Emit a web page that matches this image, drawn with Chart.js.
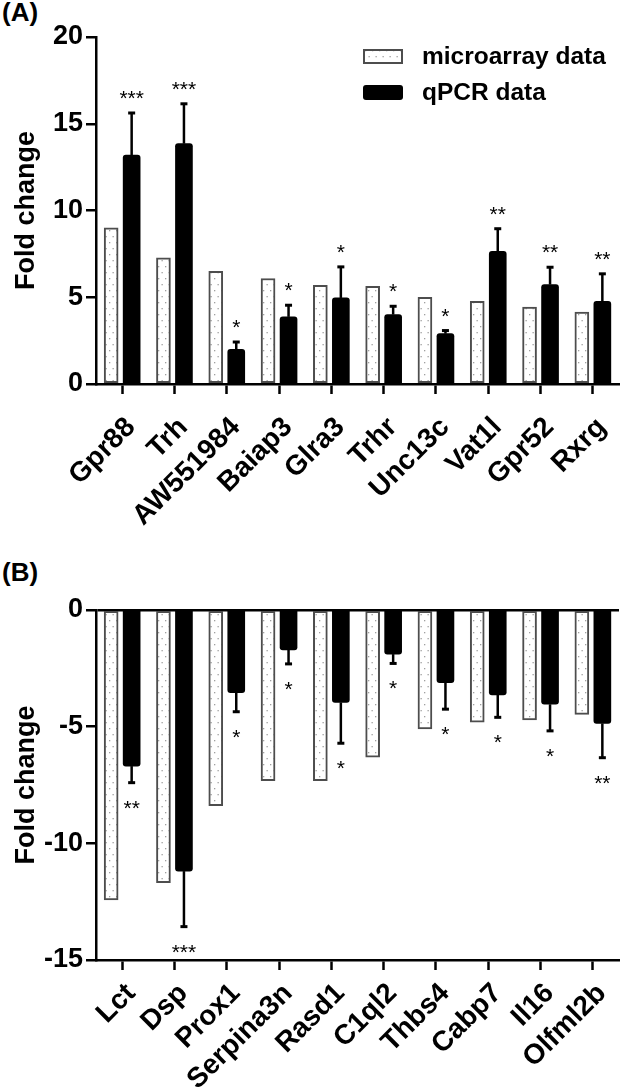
<!DOCTYPE html>
<html>
<head>
<meta charset="utf-8">
<script src="https://cdn.jsdelivr.net/npm/chart.js@4.4.1/dist/chart.umd.min.js"></script>
<style>
  html, body { margin: 0; padding: 0; background: #fff; }
  body { width: 624px; height: 1092px; position: relative; overflow: hidden; }
  .panel { position: absolute; left: 0; width: 624px; height: 546px; }
  .tag { position: absolute; left: 2px; font: bold 26px "Liberation Sans", Arial, sans-serif; line-height: 26px; color: #000; }
</style>
</head>
<body>
<div class="tag" style="top:-1px">(A)</div>
<div class="tag" style="top:559px">(B)</div>
<div class="panel" style="top:0"><canvas id="upChart" width="624" height="546"></canvas></div>
<div class="panel" style="top:546px"><canvas id="downChart" width="624" height="546"></canvas></div>
<script>
// upregulated genes (A)
const upGenes = ['Gpr88', 'Trh', 'AW551984', 'Baiap3', 'Glra3', 'Trhr', 'Unc13c', 'Vat1l', 'Gpr52', 'Rxrg'];
const upArray = [9.0, 7.27, 6.5, 6.08, 5.69, 5.63, 5.0, 4.77, 4.44, 4.15];
const upQpcr = [13.2, 13.85, 2.0, 3.87, 4.96, 4.0, 2.9, 7.65, 5.73, 4.77];
const upErr = [2.42, 2.3, 0.42, 0.67, 1.79, 0.48, 0.18, 1.3, 1.0, 1.58];
const upStars = ['***', '***', '*', '*', '*', '*', '*', '**', '**', '**'];
const upTicks = [0, 5, 10, 15, 20];

// downregulated genes (B)
const downGenes = ['Lct', 'Dsp', 'Prox1', 'Serpina3n', 'Rasd1', 'C1ql2', 'Thbs4', 'Cabp7', 'Il16', 'Olfml2b'];
const downArray = [-12.43, -11.69, -8.39, -7.31, -7.31, -6.31, -5.1, -4.81, -4.71, -4.47];
const downQpcr = [-6.69, -11.19, -3.54, -1.71, -3.96, -1.89, -3.11, -3.64, -4.04, -4.86];
const downErr = [0.71, 2.38, 0.82, 0.6, 1.75, 0.4, 1.14, 0.96, 1.14, 1.47];
const downStars = ['**', '***', '*', '*', '*', '*', '*', '*', '*', '**'];
const downTicks = [-15, -10, -5, 0];

const FONT = '"Liberation Sans", Arial, sans-serif';

function dotPattern() {
  const c = document.createElement('canvas');
  c.width = 7; c.height = 12;
  const g = c.getContext('2d');
  g.fillStyle = '#fff';
  g.fillRect(0, 0, 7, 12);
  g.fillStyle = '#a0a0a0';
  g.fillRect(1, 2, 1.3, 1.3);
  g.fillRect(4.5, 8, 1.3, 1.3);
  return g.createPattern(c, 'repeat');
}
const dots = dotPattern();

// nudge the two bars of a pair apart
const barShift = {
  id: 'barShift',
  beforeDatasetDraw(chart, args, opts) {
    chart.ctx.save();
    chart.ctx.translate(opts.shifts[args.index] || 0, 0);
  },
  afterDatasetDraw(chart) {
    chart.ctx.restore();
  }
};

// error bars and significance stars on the qPCR bars
const errorBars = {
  id: 'errorBars',
  afterDatasetsDraw(chart, args, opts) {
    const ctx = chart.ctx;
    const y = chart.scales.y;
    const meta = chart.getDatasetMeta(1);
    const vals = chart.data.datasets[1].data;
    ctx.save();
    ctx.fillStyle = '#000';
    ctx.strokeStyle = '#000';
    ctx.font = '21px ' + FONT;
    ctx.textAlign = 'center';
    ctx.textBaseline = 'alphabetic';
    meta.data.forEach((bar, i) => {
      const v = vals[i];
      const sign = v >= 0 ? 1 : -1;
      const x = bar.x + opts.shift;
      const y0 = y.getPixelForValue(v);
      const y1 = y.getPixelForValue(v + sign * opts.errors[i]);
      ctx.lineWidth = 2.5;
      ctx.beginPath();
      ctx.moveTo(x, y0);
      ctx.lineTo(x, y1);
      ctx.stroke();
      ctx.lineWidth = 3;
      ctx.beginPath();
      ctx.moveTo(x - 3.5, y1);
      ctx.lineTo(x + 3.5, y1);
      ctx.stroke();
      ctx.fillText(opts.stars[i], x, sign > 0 ? y1 - 8 : y1 + 32);
    });
    ctx.restore();
  }
};

// legend drawn inside the top panel
const boxLegend = {
  id: 'boxLegend',
  afterDraw(chart, args, opts) {
    if (!opts.show) return;
    const ctx = chart.ctx;
    const ds = chart.data.datasets;
    ctx.save();
    ctx.fillStyle = ds[0].backgroundColor;
    ctx.fillRect(364, 50, 38, 13);
    ctx.strokeStyle = ds[0].borderColor;
    ctx.lineWidth = 2;
    ctx.strokeRect(364, 50, 38, 13);
    ctx.fillStyle = ds[1].backgroundColor;
    ctx.beginPath();
    ctx.roundRect(363, 85, 40, 15, 3);
    ctx.fill();
    ctx.fillStyle = '#000';
    ctx.font = 'bold 24.5px ' + FONT;
    ctx.textBaseline = 'middle';
    ctx.fillText(ds[0].label, 422, 57);
    ctx.fillText(ds[1].label, 422, 93);
    ctx.restore();
  }
};

function makeChart(id, genes, arr, qpcr, err, stars, ticks, top, bottom, legend, labelPad) {
  const ctx = document.getElementById(id).getContext('2d');
  return new Chart(ctx, {
    type: 'bar',
    data: {
      labels: genes,
      datasets: [
        {
          label: 'microarray data',
          data: arr,
          backgroundColor: dots,
          borderColor: '#4d4d4d',
          borderWidth: 2,
          borderSkipped: false,
          barThickness: 14,
        },
        {
          label: 'qPCR data',
          data: qpcr,
          backgroundColor: '#000',
          borderWidth: 0,
          borderRadius: 3,
          barThickness: 17,
        },
      ],
    },
    options: {
      responsive: false,
      animation: false,
      layout: { padding: { top: top, right: 5, left: 0, bottom: 0 } },
      plugins: {
        legend: { display: false },
        tooltip: { enabled: false },
        barShift: { shifts: [-4, 1] },
        errorBars: { errors: err, stars: stars, shift: 1 },
        boxLegend: { show: legend },
      },
      scales: {
        x: {
          grid: {
            offset: false,
            drawOnChartArea: false,
            tickLength: 10,
            tickWidth: 2.5,
            tickColor: '#000',
          },
          border: { display: true, color: '#000', width: 2.5 },
          ticks: {
            color: '#000',
            font: { family: FONT, size: 28, weight: 'bold' },
            minRotation: 45,
            maxRotation: 45,
            padding: labelPad,
            labelOffset: 9,
            autoSkip: false,
          },
          afterFit: (s) => {
            s.height = 546 - bottom;
            s.paddingLeft = 0;
            s.paddingRight = 0;
          },
        },
        y: {
          min: ticks[0],
          max: ticks[ticks.length - 1],
          afterBuildTicks: (s) => { s.ticks = ticks.map((v) => ({ value: v })); },
          grid: {
            drawOnChartArea: true,
            color: (c) => (c.tick && c.tick.value === 0 && ticks[ticks.length - 1] === 0 ? '#000' : 'rgba(0,0,0,0)'),
            lineWidth: 2.5,
            tickLength: 10,
            tickWidth: 2.5,
            tickColor: '#000',
          },
          border: { display: true, color: '#000', width: 2.5 },
          ticks: {
            color: '#000',
            font: { family: FONT, size: 27, weight: 'bold' },
            padding: 3,
          },
          title: {
            display: true,
            text: 'Fold change',
            color: '#000',
            font: { family: FONT, size: 27, weight: 'bold' },
            padding: { top: 10, bottom: 0 },
          },
          afterFit: (s) => { s.width = 96; },
        },
      },
    },
    plugins: [barShift, errorBars, boxLegend],
  });
}

makeChart('upChart', upGenes, upArray, upQpcr, upErr, upStars, upTicks, 37, 384, true, 17);
makeChart('downChart', downGenes, downArray, downQpcr, downErr, downStars, downTicks, 64, 414, false, 7);
</script>
</body>
</html>
